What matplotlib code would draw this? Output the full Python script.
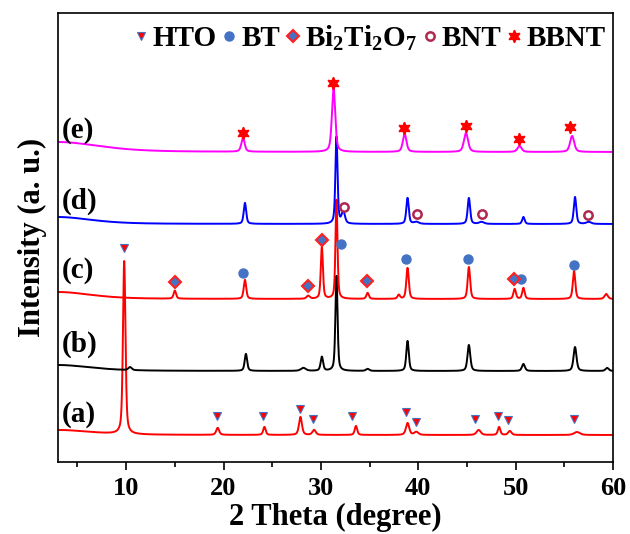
import numpy as np
import matplotlib.pyplot as plt
from matplotlib.lines import Line2D

plt.rcParams['font.family'] = 'Liberation Serif'
plt.rcParams['font.weight'] = 'bold'
plt.rcParams['axes.labelweight'] = 'bold'
plt.rcParams['mathtext.fontset'] = 'custom'
plt.rcParams['mathtext.rm'] = 'Liberation Serif:bold'
plt.rcParams['mathtext.bf'] = 'Liberation Serif:bold'

# baseline level of each pattern (stacked offsets)
base = {'a': 27, 'b': 91, 'c': 163, 'd': 238, 'e': 310}

# peaks: (2theta, height above baseline, half width)
peaks = {
    'a': [(3.0, 5, 4.0), (9.8, 173, 0.15), (19.4, 7, 0.18), (24.2, 8, 0.15),
          (27.9, 18, 0.18), (29.3, 5, 0.2), (33.6, 9, 0.15), (38.9, 12, 0.2),
          (39.8, 3, 0.25), (46.2, 5, 0.25), (48.3, 8, 0.15), (49.4, 4, 0.2),
          (56.3, 3, 0.35)],
    'b': [(3.0, 6, 4.0), (10.4, 3, 0.2), (22.3, 17, 0.15), (28.2, 3, 0.3),
          (30.1, 14, 0.15), (31.6, 95, 0.13), (34.8, 2, 0.2), (38.9, 30, 0.15),
          (45.2, 26, 0.17), (50.8, 7, 0.18), (56.1, 24, 0.18), (59.4, 3, 0.2)],
    'c': [(3.0, 7, 4.0), (15.0, 8, 0.15), (22.2, 19, 0.15), (28.7, 3, 0.2),
          (30.1, 52, 0.13), (31.6, 99, 0.12), (34.8, 6, 0.15), (38.0, 4, 0.15),
          (38.9, 31, 0.15), (45.2, 32, 0.15), (49.9, 10, 0.15), (50.8, 11, 0.15),
          (56.0, 28, 0.15), (59.3, 5, 0.2)],
    'd': [(3.0, 7, 4.0), (22.2, 21, 0.15), (31.6, 87, 0.13), (32.3, 12, 0.2),
          (38.9, 26, 0.15), (39.8, 2, 0.3), (45.2, 26, 0.15), (46.5, 2, 0.3),
          (50.8, 7, 0.15), (56.1, 27, 0.15), (57.5, 2, 0.3)],
    'e': [(3.0, 10, 5.0), (22.0, 14, 0.2), (31.3, 64, 0.2), (38.6, 18, 0.22),
          (44.9, 19, 0.25), (50.4, 6, 0.25), (55.8, 16, 0.25)],
}
colors = {'a': '#FF0000', 'b': '#000000', 'c': '#FF0000', 'd': '#0000FF', 'e': '#FF00FF'}
label_y = {'a': 47, 'b': 118, 'c': 191, 'd': 261, 'e': 331}

# phase markers: 2theta positions and heights
hto_x = [9.8, 19.3, 24.1, 27.9, 29.2, 33.2, 38.7, 39.8, 45.8, 48.2, 49.2, 56.0]
hto_y = [214, 46, 46, 53, 43, 46, 50, 40, 43, 46, 42, 43]
bt_x = [22.0, 32.1, 38.7, 45.1, 50.6, 56.0]
bt_y = [189, 218, 203, 203, 183, 197]
bto_x = [15.0, 28.7, 30.1, 34.7, 49.8]
bto_y = [180, 176, 222, 181, 183]
bnt_x = [32.4, 39.9, 46.5, 57.4]
bnt_y = [255, 248, 248, 247]
bbnt_x = [22.0, 31.2, 38.5, 44.9, 50.3, 55.6]
bbnt_y = [329, 379, 334, 336, 323, 335]

two_theta = np.arange(3, 60.001, 0.02)


def pattern(plist, level):
    y = np.full_like(two_theta, float(level))
    for pos, h, w in plist:
        lor = 1.0 / (1.0 + ((two_theta - pos) / w) ** 2)
        gau = np.exp(-np.log(2) * ((two_theta - pos) / w) ** 2)
        y += h * (0.5 * lor + 0.5 * gau)
    return y


fig = plt.figure(figsize=(6.3, 5.34), dpi=100)
ax = fig.add_axes([58 / 630, 72 / 534, 555 / 630, 449 / 534])

for key in ['a', 'b', 'c', 'd', 'e']:
    ax.plot(two_theta, pattern(peaks[key], base[key]), color=colors[key], lw=1.4)
    ax.text(3.4, label_y[key], '(%s)' % key, fontsize=21, va='center', ha='left')

hto_style = dict(marker='v', ms=6, mfc='#FF0000', mec='#4472C4', mew=0.8, ls='none')
bt_style = dict(marker='o', ms=6.5, mfc='#4472C4', mec='#4472C4', ls='none')
bto_style = dict(marker='D', ms=6, mfc='#4472C4', mec='#FF2020', mew=1.5, ls='none')
bnt_style = dict(marker='o', ms=6, mfc='white', mec='#B02850', mew=1.8, ls='none')
bbnt_style = dict(marker=(6, 1, 0), ms=9, mfc='#FF0000', mec='#FF0000', ls='none')

ax.plot(hto_x, hto_y, **hto_style)
ax.plot(bt_x, bt_y, **bt_style)
ax.plot(bto_x, bto_y, **bto_style)
ax.plot(bnt_x, bnt_y, **bnt_style)
ax.plot(bbnt_x, bbnt_y, **bbnt_style)

handles = [Line2D([], [], **hto_style), Line2D([], [], **bt_style),
           Line2D([], [], **bto_style), Line2D([], [], **bnt_style),
           Line2D([], [], **bbnt_style)]
names = ['HTO', 'BT', r'Bi$_\mathbf{2}$Ti$_\mathbf{2}$O$_\mathbf{7}$', 'BNT', 'BBNT']
ax.legend(handles, names, ncol=5, loc='center right', bbox_to_anchor=(0.986, 0.944),
          frameon=False, fontsize=21, handlelength=0.4, handletextpad=0.2,
          columnspacing=0.25, borderaxespad=0, borderpad=0)

ax.set_xlim(3, 60)
ax.set_ylim(0, 449)
ax.set_xticks([10, 20, 30, 40, 50, 60])
ax.set_xticks(np.arange(5, 60, 10), minor=True)
ax.set_yticks([])
ax.tick_params(axis='x', which='major', direction='out', length=6, width=1.2, labelsize=19, pad=5)
ax.tick_params(axis='x', which='minor', direction='out', length=3.5, width=1.2)
for s in ax.spines.values():
    s.set_linewidth(1.2)

ax.set_xlabel('2 Theta (degree)', fontsize=22, labelpad=2)
ax.set_ylabel('Intensity (a. u.)', fontsize=22, labelpad=8)

fig.savefig('out.png', dpi=100)
